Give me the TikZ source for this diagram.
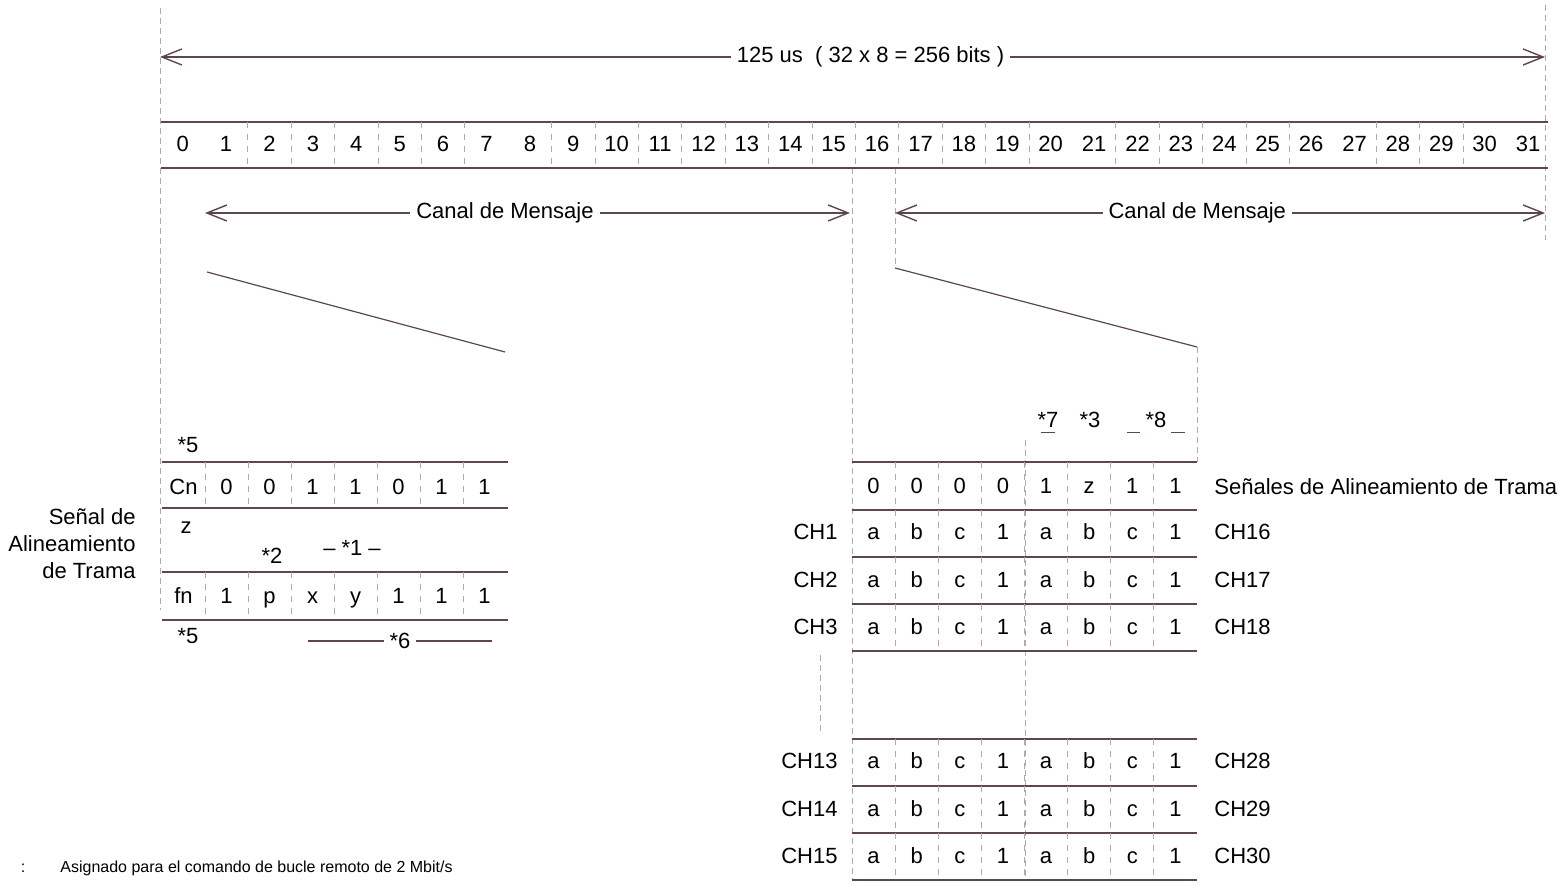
\documentclass[tikz,border=0pt]{standalone}
\usepackage{fontspec}
\setmainfont{Liberation Sans}
\usepackage{xcolor}
\usetikzlibrary{arrows.meta, positioning}
\definecolor{scanline}{RGB}{92,70,80}
\definecolor{guidegray}{RGB}{175,170,172}

\begin{document}
\begin{tikzpicture}[x=0.5pt, y=-0.5pt,
    lbl/.style={font=\fontsize{11}{13}\selectfont, inner sep=1pt, text=black},
    cellt/.style={lbl, text height=1.6ex, text depth=0.3ex},
    note/.style={font=\fontsize{8}{10}\selectfont, inner sep=1pt},
    rulebar/.style={draw=scanline, line width=0.8pt},
    divider/.style={draw=guidegray, dashed, line width=0.4pt},
    guide/.style={draw=guidegray, densely dashed, line width=0.4pt},
    span/.style={draw=scanline, line width=0.7pt,
                 {Straight Barb[length=10pt,width=8pt]}-{Straight Barb[length=10pt,width=8pt]}},
    tag/.style={lbl, fill=white, inner sep=3pt}
]
    \useasboundingbox (0,0) rectangle (1562,886);

    % guides
    \coordinate (gL0) at (160,8);   \coordinate (gL1) at (160,610);
    \coordinate (gR0) at (1545,5);  \coordinate (gR1) at (1545,240);
    \coordinate (gA0) at (852,168); \coordinate (gA1) at (852,880);
    \coordinate (gB0) at (895,168); \coordinate (gB1) at (895,268);
    \coordinate (gC0) at (1197,347); \coordinate (gC1) at (1197,462);
    \coordinate (gD0) at (1025,440); \coordinate (gD1) at (1025,880);
    \coordinate (gE0) at (820,655); \coordinate (gE1) at (820,735);
    \foreach \g in {L,R,A,B,C,D,E}
        \draw[guide] (g\g0) -- (g\g1);

    % frame duration
    \coordinate (fa) at (160,57);
    \coordinate (fb) at (1545,57);
    \draw[span] (fa) -- (fb) node[tag, pos=0.513] (frame) {125 us\ \ ( 32 x 8 = 256 bits )};

    % 32 time slots
    \draw[rulebar] (161,122) -- (1548,122);
    \draw[rulebar] (161,168) -- (1548,168);
    \foreach \k in {2,...,7,9,10,...,20,22,23,...,26,28,29,30}
        \draw[divider] ({161+43.4*\k},122) -- ++(0,46);
    \foreach \i in {0,...,31}
        \node[cellt] (ts\i) at ({161+43.4*(\i+0.5)},145) {\i};

    % message channels
    \coordinate (ma) at (205,213);
    \coordinate (mb) at (850,213);
    \coordinate (mc) at (895,213);
    \coordinate (md) at (1545,213);
    \draw[span] (ma) -- (mb) node[tag, pos=0.465] (msgL) {Canal de Mensaje};
    \draw[span] (mc) -- (md) node[tag, pos=0.465] (msgR) {Canal de Mensaje};

    % zoom lines
    \coordinate (zl0) at (207,272); \coordinate (zl1) at (505,352);
    \coordinate (zr0) at (895,268); \coordinate (zr1) at (1197,347);
    \draw[scanline, line width=0.6pt] (zl0) -- (zl1);
    \draw[scanline, line width=0.6pt] (zr0) -- (zr1);

    % frame alignment signal (slot 0)
    \foreach \y in {462,508,572,620}
        \draw[rulebar] (162,\y) -- (508,\y);
    \foreach \k in {1,...,7} {
        \draw[divider] ({162+43*\k},462) -- ++(0,46);
        \draw[divider] ({162+43*\k},572) -- ++(0,48);
    }
    \foreach \v [count=\c from 0] in {Cn,0,0,1,1,0,1,1}
        \node[cellt] (fas\c) at ({162+43*(\c+0.5)},488) {\v};
    \foreach \v [count=\c from 0] in {fn,1,p,x,y,1,1,1}
        \node[cellt] (nfas\c) at ({162+43*(\c+0.5)},597) {\v};
    \node[lbl] (n5a) at (188,445) {*5};
    \node[lbl] (zl) at (186,528) {z};
    \node[lbl] (n2) at (272,556) {*2};
    \node[lbl] (n1) at (352,548) {-- *1 --};
    \node[lbl] (n5b) at (188,636) {*5};
    \coordinate (s6a) at (308,641);
    \coordinate (s6b) at (492,641);
    \draw[scanline, line width=0.6pt] (s6a) -- (s6b) node[tag, midway] (n6) {*6};
    \node[lbl, align=right, anchor=east] (fasname) at (138,544)
        {Señal de\\[0.5pt]Alineamiento\\[0.5pt]de Trama};

    % signalling channel (slot 16)
    \foreach \y in {462,510,557,604,651,739,786,833,880}
        \draw[rulebar] (852,\y) -- (1197,\y);
    \foreach \y in {462,510,557,604,739,786,833}
        \foreach \k in {1,...,7}
            \draw[divider] ({852+43.125*\k},\y) -- ++(0,47);
    \foreach \v [count=\c from 0] in {0,0,0,0,1,z,1,1}
        \node[cellt] (mf\c) at ({852+43.125*(\c+0.5)},487) {\v};
    \node[lbl, anchor=west] (mfname) at (1212,487) {Señales de Alineamiento de Trama};
    \foreach \y/\l/\r in {533/1/16, 581/2/17, 628/3/18, 762/13/28, 810/14/29, 857/15/30} {
        \node[cellt, anchor=east] (ch\l) at (840,\y) {CH\l};
        \foreach \v [count=\c from 0] in {a,b,c,1,a,b,c,1}
            \node[cellt] (cell\l-\c) at ({852+43.125*(\c+0.5)},\y) {\v};
        \node[cellt, anchor=west] (ch\r) at (1212,\y) {CH\r};
    }
    \node[lbl] (n7) at (1048,420) {*7};
    \node[lbl] (n3) at (1090,420) {*3};
    \node[lbl] (n8) at (1156,420) {*8};
    \draw[scanline, line width=0.5pt] (1041,433) -- (1055,433);
    \draw[scanline, line width=0.5pt] (1127,433) -- (1140,433);
    \draw[scanline, line width=0.5pt] (1171,433) -- (1185,433);

    % footnote
    \node[note] (bullet) at (23,868) {:};
    \node[note, anchor=west] (fn1) at (58,868) {Asignado para el comando de bucle remoto de 2 Mbit/s};
\end{tikzpicture}
\end{document}
